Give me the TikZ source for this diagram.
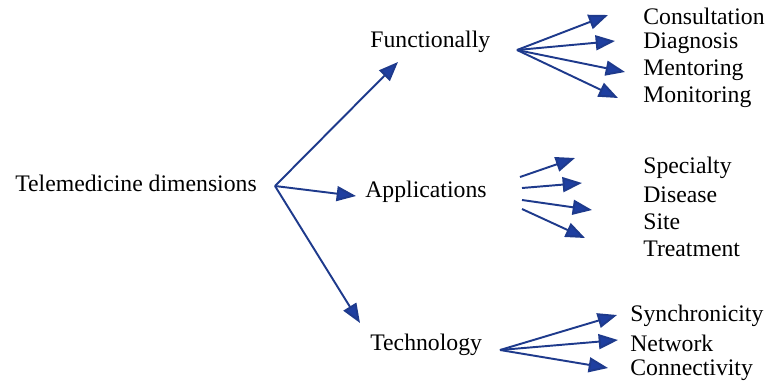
\documentclass[tikz,border=0pt]{standalone}
\usepackage{fontspec}
\setmainfont{Liberation Serif}
\newfontfamily\dimfont{Liberation Serif}
\usetikzlibrary{arrows.meta}
\definecolor{arrowblue}{HTML}{1E3A8C}
\definecolor{tipblue}{HTML}{1F3FA0}
\tikzset{
  dimtext/.style={anchor=west, inner sep=0pt, font=\dimfont\fontsize{13.5}{16}\selectfont},
  fanarrow/.style={draw=arrowblue, line width=1.1pt, -{Triangle[length=11pt,width=8.5pt,fill=tipblue]}}
}
\begin{document}
\begin{tikzpicture}[x=0.02cm,y=-0.02cm]
    \useasboundingbox (0,0) rectangle (766,383);
    \node [dimtext] (root) at (15,183) {Telemedicine dimensions};
    \node [dimtext] (func) at (370,42) {Functionally};
    \node [dimtext] (appl) at (365,192) {Applications};
    \node [dimtext] (tech) at (370,345) {Technology};
    \node [dimtext] (cons) at (643,16) {Consultation};
    \node [dimtext] (diag) at (643,43) {Diagnosis};
    \node [dimtext] (ment) at (643,70) {Mentoring};
    \node [dimtext] (moni) at (643,97) {Monitoring};
    \node [dimtext] (spec) at (643,168) {Specialty};
    \node [dimtext] (dise) at (643,195) {Disease};
    \node [dimtext] (site) at (643,222) {Site};
    \node [dimtext] (trea) at (643,249) {Treatment};
    \node [dimtext] (sync) at (630,316) {Synchronicity};
    \node [dimtext] (netw) at (630,343) {Network};
    \node [dimtext] (conn) at (630,370) {Connectivity};
    \coordinate (hub) at (275,186);
    \coordinate (funcend) at (398,62);
    \coordinate (applend) at (356,196);
    \coordinate (techend) at (360,323);
    \draw [fanarrow] (hub)--(funcend);
    \draw [fanarrow] (hub)--(applend);
    \draw [fanarrow] (hub)--(techend);
    \coordinate (funchub) at (517,50);
    \coordinate (consend) at (608,15);
    \coordinate (diagend) at (615,41);
    \coordinate (mentend) at (625,72);
    \coordinate (moniend) at (618,98);
    \draw [fanarrow] (funchub)--(consend);
    \draw [fanarrow] (funchub)--(diagend);
    \draw [fanarrow] (funchub)--(mentend);
    \draw [fanarrow] (funchub)--(moniend);
    \coordinate (specstart) at (520,177);
    \coordinate (disestart) at (522,188);
    \coordinate (sitestart) at (522,200);
    \coordinate (treastart) at (522,209);
    \coordinate (specend) at (575,158);
    \coordinate (diseend) at (582,183);
    \coordinate (siteend) at (592,210);
    \coordinate (treaend) at (585,238);
    \draw [fanarrow] (specstart)--(specend);
    \draw [fanarrow] (disestart)--(diseend);
    \draw [fanarrow] (sitestart)--(siteend);
    \draw [fanarrow] (treastart)--(treaend);
    \coordinate (techhub) at (500,350);
    \coordinate (syncend) at (617,315);
    \coordinate (netwend) at (618,340);
    \coordinate (connend) at (608,368);
    \draw [fanarrow] (techhub)--(syncend);
    \draw [fanarrow] (techhub)--(netwend);
    \draw [fanarrow] (techhub)--(connend);
\end{tikzpicture}
\end{document}
